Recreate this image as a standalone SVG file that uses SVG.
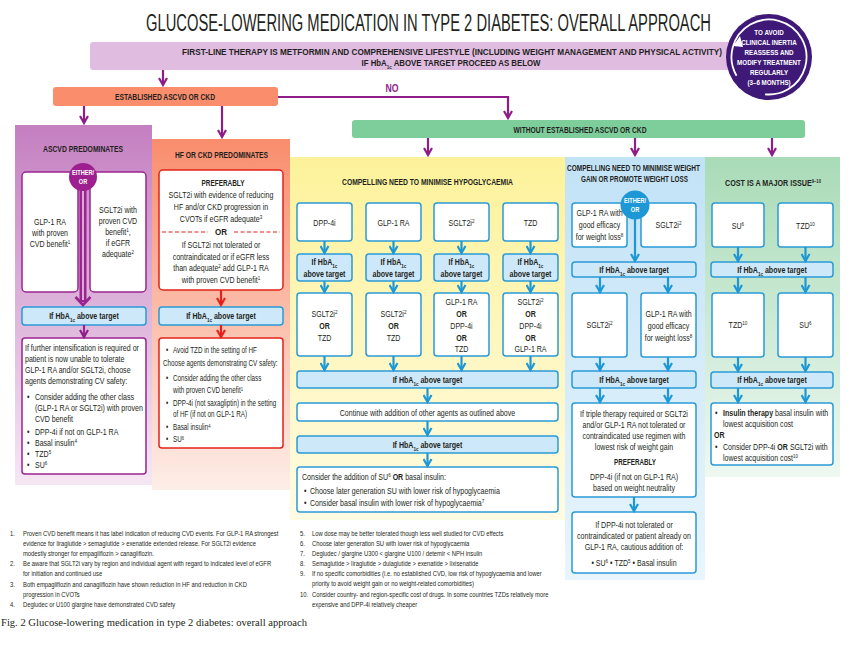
<svg xmlns="http://www.w3.org/2000/svg" width="850" height="646" viewBox="0 0 850 646">
<style>
.t{font-family:"Liberation Sans",Arial,sans-serif;fill:#231f20}
.b{font-size:8.5px}
.bb{font-size:8.5px;font-weight:bold}
.h{font-size:9.5px;font-weight:bold}
.c{text-anchor:middle}
.w{fill:#ffffff;font-weight:bold}
.sup{font-size:5.5px;baseline-shift:super}
.sub{font-size:5.5px;baseline-shift:sub}
.fn{font-size:7.6px}
.bx{fill:#ffffff;stroke:#2a9ad6;stroke-width:1.5}
.hb{fill:#cde8f8;stroke:#2a9ad6;stroke-width:1.5}
.pb{fill:#ffffff;stroke:#9b2590;stroke-width:1.5}
.rb{fill:#ffffff;stroke:#e2231a;stroke-width:1.5}
.cp{fill:none;stroke:#8d1d87;stroke-width:2.2}
.cr{fill:none;stroke:#e2231a;stroke-width:2.2}
.cb{fill:none;stroke:#1e98d5;stroke-width:2.2}
</style>
<defs>
<linearGradient id="gA" x1="0" y1="0" x2="0" y2="1"><stop offset="0" stop-color="#c47fc1"/><stop offset="1" stop-color="#f6e7f4"/></linearGradient>
<linearGradient id="gH" x1="0" y1="0" x2="0" y2="1"><stop offset="0" stop-color="#f98d6d"/><stop offset="1" stop-color="#fdeee8"/></linearGradient>
<linearGradient id="gY" x1="0" y1="0" x2="0" y2="1"><stop offset="0" stop-color="#fdf29a"/><stop offset="1" stop-color="#fffbe3"/></linearGradient>
<linearGradient id="gB" x1="0" y1="0" x2="0" y2="1"><stop offset="0" stop-color="#c2e2f6"/><stop offset="1" stop-color="#e8f5fc"/></linearGradient>
<linearGradient id="gG" x1="0" y1="0" x2="0" y2="1"><stop offset="0" stop-color="#a9dbb7"/><stop offset="1" stop-color="#eef8f1"/></linearGradient>
<marker id="ap" viewBox="0 0 10 10" refX="8.5" refY="5" markerWidth="10" markerHeight="10" markerUnits="userSpaceOnUse" orient="auto"><path d="M1.5,1 L8.5,5 L1.5,9" fill="none" stroke="#8d1d87" stroke-width="2.2"/></marker>
<marker id="ar" viewBox="0 0 10 10" refX="8.5" refY="5" markerWidth="10" markerHeight="10" markerUnits="userSpaceOnUse" orient="auto"><path d="M1.5,1 L8.5,5 L1.5,9" fill="none" stroke="#e2231a" stroke-width="2.2"/></marker>
<marker id="ab" viewBox="0 0 10 10" refX="8.5" refY="5" markerWidth="10" markerHeight="10" markerUnits="userSpaceOnUse" orient="auto"><path d="M1.5,1 L8.5,5 L1.5,9" fill="none" stroke="#1e98d5" stroke-width="2.2"/></marker>
</defs>
<rect width="850" height="646" fill="#ffffff"/>

<text class="t" x="428.5" y="31" text-anchor="middle" font-size="23" textLength="565" lengthAdjust="spacingAndGlyphs">GLUCOSE-LOWERING MEDICATION IN TYPE 2 DIABETES: OVERALL APPROACH</text>

<!-- panels -->
<g id="panel-ascvd"><rect x="15" y="125" width="137" height="360" fill="url(#gA)"/></g>
<g id="panel-hf"><rect x="152" y="139" width="138" height="351" fill="url(#gH)"/></g>
<g id="panel-hypo"><rect x="290" y="157" width="275" height="363" fill="url(#gY)"/></g>
<g id="panel-weight"><rect x="565" y="157" width="140" height="423" fill="url(#gB)"/></g>
<g id="panel-cost"><rect x="705" y="157" width="135" height="320" fill="url(#gG)"/></g>

<g id="first-line">
<rect x="90" y="42" width="650" height="28" rx="3" fill="#e0bce0"/>
<text class="t h c" x="452" y="55" textLength="540" lengthAdjust="spacingAndGlyphs">FIRST-LINE THERAPY IS METFORMIN AND COMPREHENSIVE LIFESTYLE (INCLUDING WEIGHT MANAGEMENT AND PHYSICAL ACTIVITY)</text>
<text class="t h c" x="451" y="66" textLength="179" lengthAdjust="spacingAndGlyphs">IF HbA<tspan class="sub">1c</tspan> ABOVE TARGET PROCEED AS BELOW</text>
</g>

<g id="reassess">
<circle cx="769" cy="57" r="43" fill="#3f1978"/>
<circle cx="769" cy="57" r="37.5" fill="none" stroke="#ffffff" stroke-width="1.8" stroke-dasharray="200 36" transform="rotate(150 769 57)"/>
<path d="M733,46 L740,36 L743,47 Z" fill="#ffffff"/>
<g transform="matrix(0.78,0,0,1,169.18,0)">
<text class="t w c" font-size="8" x="769" y="35">TO AVOID</text>
<text class="t w c" font-size="8" x="769" y="45">CLINICAL INERTIA</text>
<text class="t w c" font-size="8" x="769" y="55">REASSESS AND</text>
<text class="t w c" font-size="8" x="769" y="65">MODIFY TREATMENT</text>
<text class="t w c" font-size="8" x="769" y="75">REGULARLY</text>
<text class="t w c" font-size="8" x="769" y="85">(3–6 MONTHS)</text>
</g>
</g>

<g id="established">
<rect x="53" y="87" width="225" height="19" rx="3" fill="#fa8d6c"/>
<text class="t h c" x="165" y="100" textLength="100" lengthAdjust="spacingAndGlyphs">ESTABLISHED ASCVD OR CKD</text>
</g>
<text id="label-no" class="t c" x="392" y="92" font-size="10" font-weight="bold" style="fill:#8d1d87" textLength="13" lengthAdjust="spacingAndGlyphs">NO</text>

<g id="without">
<rect x="352" y="120" width="453" height="18" rx="3" fill="#7dce9b"/>
<text class="t h c" x="580" y="133" textLength="133" lengthAdjust="spacingAndGlyphs">WITHOUT ESTABLISHED ASCVD OR CKD</text>
</g>

<!-- ASCVD column -->
<g id="ascvd">
<text class="t h c" x="83" y="152" textLength="80" lengthAdjust="spacingAndGlyphs">ASCVD PREDOMINATES</text>
<rect class="pb" x="22" y="172" width="56" height="120" rx="4"/>
<rect class="pb" x="90" y="172" width="56" height="120" rx="4"/>
<g transform="matrix(0.83,0,0,1,8.5,0)">
<text class="t b c" x="50" y="225">GLP-1 RA</text>
<text class="t b c" x="50" y="236">with proven</text>
<text class="t b c" x="50" y="247">CVD benefit<tspan class="sup">1</tspan></text>
</g>
<g transform="matrix(0.83,0,0,1,20.06,0)">
<text class="t b c" x="118" y="213">SGLT2i with</text>
<text class="t b c" x="118" y="224">proven CVD</text>
<text class="t b c" x="118" y="235">benefit<tspan class="sup">1</tspan>,</text>
<text class="t b c" x="118" y="246">if eGFR</text>
<text class="t b c" x="118" y="257">adequate<tspan class="sup">2</tspan></text>
</g>
<rect class="hb" x="22" y="307" width="124" height="18" rx="3"/>
<g transform="matrix(0.83,0,0,1,14.28,0)"><text class="t bb c" x="84" y="319">If HbA<tspan class="sub">1c</tspan> above target</text></g>
<rect class="pb" x="22" y="338" width="124" height="136" rx="3"/>
<g transform="matrix(0.83,0,0,1,4.25,0)">
<text class="t b" x="25" y="351">If further intensification is required or</text>
<text class="t b" x="25" y="362">patient is now unable to tolerate</text>
<text class="t b" x="25" y="373">GLP-1 RA and/or SGLT2i, choose</text>
<text class="t b" x="25" y="384">agents demonstrating CV safety:</text>
<text class="t b" x="27.4" y="400">•</text><text class="t b" x="37" y="400">Consider adding the other class</text>
<text class="t b" x="37" y="411">(GLP-1 RA or SGLT2i) with proven</text>
<text class="t b" x="37" y="422">CVD benefit</text>
<text class="t b" x="27.4" y="435">•</text><text class="t b" x="37" y="435">DPP-4i if not on GLP-1 RA</text>
<text class="t b" x="27.4" y="446">•</text><text class="t b" x="37" y="446">Basal insulin<tspan class="sup">4</tspan></text>
<text class="t b" x="27.4" y="457">•</text><text class="t b" x="37" y="457">TZD<tspan class="sup">5</tspan></text>
<text class="t b" x="27.4" y="468">•</text><text class="t b" x="37" y="468">SU<tspan class="sup">6</tspan></text>
</g>
</g>

<!-- HF column -->
<g id="hf">
<text class="t h c" x="221.5" y="158" textLength="93" lengthAdjust="spacingAndGlyphs">HF OR CKD PREDOMINATES</text>
<rect class="rb" x="159" y="170" width="124" height="120" rx="4"/>
<path d="M162,232 H208 M234,232 H280" stroke="#e2231a" stroke-width="1.2" stroke-dasharray="4 2.5" fill="none"/>
<text class="t h c" x="223" y="186" textLength="43" lengthAdjust="spacingAndGlyphs">PREFERABLY</text>
<text class="t h c" x="221" y="235" textLength="12" lengthAdjust="spacingAndGlyphs">OR</text>
<g transform="matrix(0.83,0,0,1,37.57,0)">
<text class="t b c" x="221" y="198">SGLT2i with evidence of reducing</text>
<text class="t b c" x="221" y="210">HF and/or CKD progression in</text>
<text class="t b c" x="221" y="222">CVOTs if eGFR adequate<tspan class="sup">3</tspan></text>
<text class="t b c" x="221" y="248">If SGLT2i not tolerated or</text>
<text class="t b c" x="221" y="260">contraindicated or if eGFR less</text>
<text class="t b c" x="221" y="271">than adequate<tspan class="sup">2</tspan> add GLP-1 RA</text>
<text class="t b c" x="221" y="283">with proven CVD benefit<tspan class="sup">1</tspan></text>
</g>
<rect class="hb" x="159" y="307" width="124" height="18" rx="3"/>
<g transform="matrix(0.83,0,0,1,37.57,0)"><text class="t bb c" x="221" y="319">If HbA<tspan class="sub">1c</tspan> above target</text></g>
<rect class="rb" x="159" y="338" width="124" height="110" rx="3"/>
<g transform="matrix(0.74,0,0,1,42.38,0)">
<text class="t b" x="167" y="353">•</text><text class="t b" x="176.5" y="353">Avoid TZD in the setting of HF</text>
<text class="t b" x="163" y="366">Choose agents demonstrating CV safety:</text>
<text class="t b" x="167" y="381">•</text><text class="t b" x="176.5" y="381">Consider adding the other class</text>
<text class="t b" x="176.5" y="393">with proven CVD benefit<tspan class="sup">1</tspan></text>
<text class="t b" x="167" y="406">•</text><text class="t b" x="176.5" y="406">DPP-4i (not saxagliptin) in the setting</text>
<text class="t b" x="176.5" y="417">of HF (if not on GLP-1 RA)</text>
<text class="t b" x="167" y="430">•</text><text class="t b" x="176.5" y="430">Basal insulin<tspan class="sup">4</tspan></text>
<text class="t b" x="167" y="442">•</text><text class="t b" x="176.5" y="442">SU<tspan class="sup">6</tspan></text>
</g>
</g>

<!-- Hypoglycaemia column -->
<g id="hypo">
<text class="t h c" x="427.5" y="185" textLength="171" lengthAdjust="spacingAndGlyphs">COMPELLING NEED TO MINIMISE HYPOGLYCAEMIA</text>
<rect class="bx" x="297" y="203" width="55" height="38" rx="3"/>
<rect class="bx" x="366" y="203" width="55" height="38" rx="3"/>
<rect class="bx" x="434" y="203" width="55" height="38" rx="3"/>
<rect class="bx" x="503" y="203" width="55" height="38" rx="3"/>
<rect class="hb" x="297" y="254" width="55" height="27" rx="3"/>
<rect class="hb" x="366" y="254" width="55" height="27" rx="3"/>
<rect class="hb" x="434" y="254" width="55" height="27" rx="3"/>
<rect class="hb" x="503" y="254" width="55" height="27" rx="3"/>
<rect class="bx" x="297" y="293" width="55" height="63" rx="3"/>
<rect class="bx" x="366" y="293" width="55" height="63" rx="3"/>
<rect class="bx" x="434" y="293" width="55" height="63" rx="3"/>
<rect class="bx" x="503" y="293" width="55" height="63" rx="3"/>
<g transform="matrix(0.83,0,0,1,55.165,0)">
<text class="t b c" x="324.5" y="226">DPP-4i</text>
<text class="t bb c" x="324.5" y="265">If HbA<tspan class="sub">1c</tspan></text>
<text class="t bb c" x="324.5" y="277">above target</text>
<text class="t b c" x="324.5" y="317">SGLT2i<tspan class="sup">2</tspan></text>
<text class="t bb c" x="324.5" y="329">OR</text>
<text class="t b c" x="324.5" y="341">TZD</text>
</g>
<g transform="matrix(0.83,0,0,1,66.895,0)">
<text class="t b c" x="393.5" y="226">GLP-1 RA</text>
<text class="t bb c" x="393.5" y="265">If HbA<tspan class="sub">1c</tspan></text>
<text class="t bb c" x="393.5" y="277">above target</text>
<text class="t b c" x="393.5" y="317">SGLT2i<tspan class="sup">2</tspan></text>
<text class="t bb c" x="393.5" y="329">OR</text>
<text class="t b c" x="393.5" y="341">TZD</text>
</g>
<g transform="matrix(0.83,0,0,1,78.455,0)">
<text class="t b c" x="461.5" y="226">SGLT2i<tspan class="sup">2</tspan></text>
<text class="t bb c" x="461.5" y="265">If HbA<tspan class="sub">1c</tspan></text>
<text class="t bb c" x="461.5" y="277">above target</text>
<text class="t b c" x="461.5" y="305">GLP-1 RA</text>
<text class="t bb c" x="461.5" y="317">OR</text>
<text class="t b c" x="461.5" y="329">DPP-4i</text>
<text class="t bb c" x="461.5" y="341">OR</text>
<text class="t b c" x="461.5" y="352">TZD</text>
</g>
<g transform="matrix(0.83,0,0,1,90.185,0)">
<text class="t b c" x="530.5" y="226">TZD</text>
<text class="t bb c" x="530.5" y="265">If HbA<tspan class="sub">1c</tspan></text>
<text class="t bb c" x="530.5" y="277">above target</text>
<text class="t b c" x="530.5" y="305">SGLT2i<tspan class="sup">2</tspan></text>
<text class="t bb c" x="530.5" y="317">OR</text>
<text class="t b c" x="530.5" y="329">DPP-4i</text>
<text class="t bb c" x="530.5" y="341">OR</text>
<text class="t b c" x="530.5" y="352">GLP-1 RA</text>
</g>
<rect class="hb" x="297" y="371" width="261" height="17" rx="3"/>
<rect class="bx" x="297" y="403" width="261" height="18" rx="3"/>
<rect class="hb" x="297" y="436" width="261" height="17" rx="3"/>
<rect class="bx" x="297" y="467" width="261" height="45" rx="3"/>
<g transform="matrix(0.83,0,0,1,72.675,0)">
<text class="t bb c" x="427.5" y="383">If HbA<tspan class="sub">1c</tspan> above target</text>
<text class="t b c" x="427.5" y="416">Continue with addition of other agents as outlined above</text>
<text class="t bb c" x="427.5" y="448">If HbA<tspan class="sub">1c</tspan> above target</text>
</g>
<g transform="matrix(0.83,0,0,1,51.34,0)">
<text class="t b" x="302" y="480">Consider the addition of SU<tspan class="sup">6</tspan> <tspan font-weight="bold">OR</tspan> basal insulin:</text>
<text class="t b" x="304.4" y="494">•</text><text class="t b" x="311.6" y="494">Choose later generation SU with lower risk of hypoglycaemia</text>
<text class="t b" x="304.4" y="506">•</text><text class="t b" x="311.6" y="506">Consider basal insulin with lower risk of hypoglycaemia<tspan class="sup">7</tspan></text>
</g>
</g>

<!-- Weight column -->
<g id="weight">
<text class="t h c" x="633.5" y="171" textLength="133" lengthAdjust="spacingAndGlyphs">COMPELLING NEED TO MINIMISE WEIGHT</text>
<text class="t h c" x="634.5" y="182" textLength="107" lengthAdjust="spacingAndGlyphs">GAIN OR PROMOTE WEIGHT LOSS</text>
<rect class="bx" x="572" y="203" width="55" height="44" rx="3"/>
<rect class="bx" x="641" y="203" width="55" height="44" rx="3"/>
<rect class="hb" x="572" y="262" width="124" height="15" rx="3"/>
<rect class="bx" x="572" y="293" width="55" height="64" rx="3"/>
<rect class="bx" x="641" y="293" width="55" height="64" rx="3"/>
<rect class="hb" x="572" y="371" width="124" height="17" rx="3"/>
<rect class="bx" x="572" y="403" width="124" height="94" rx="3"/>
<rect class="bx" x="572" y="512" width="124" height="61" rx="3"/>
<g transform="matrix(0.83,0,0,1,101.915,0)">
<text class="t b c" x="599.5" y="216">GLP-1 RA with</text>
<text class="t b c" x="599.5" y="228">good efficacy</text>
<text class="t b c" x="599.5" y="240">for weight loss<tspan class="sup">8</tspan></text>
<text class="t b c" x="599.5" y="328">SGLT2i<tspan class="sup">2</tspan></text>
</g>
<g transform="matrix(0.83,0,0,1,113.645,0)">
<text class="t b c" x="668.5" y="228">SGLT2i<tspan class="sup">2</tspan></text>
<text class="t b c" x="668.5" y="317">GLP-1 RA with</text>
<text class="t b c" x="668.5" y="329">good efficacy</text>
<text class="t b c" x="668.5" y="341">for weight loss<tspan class="sup">8</tspan></text>
</g>
<g transform="matrix(0.83,0,0,1,107.78,0)">
<text class="t bb c" x="634" y="273">If HbA<tspan class="sub">1c</tspan> above target</text>
<text class="t bb c" x="634" y="383">If HbA<tspan class="sub">1c</tspan> above target</text>
<text class="t b c" x="634" y="417">If triple therapy required or SGLT2i</text>
<text class="t b c" x="634" y="428">and/or GLP-1 RA not tolerated or</text>
<text class="t b c" x="634" y="439">contraindicated use regimen with</text>
<text class="t b c" x="634" y="450">lowest risk of weight gain</text>
<text class="t b c" x="634" y="480">DPP-4i (if not on GLP-1 RA)</text>
<text class="t b c" x="634" y="491">based on weight neutrality</text>
<text class="t b c" x="634" y="528">If DPP-4i not tolerated or</text>
<text class="t b c" x="634" y="539">contraindicated or patient already on</text>
<text class="t b c" x="634" y="550">GLP-1 RA, cautious addition of:</text>
<text class="t b c" x="634" y="566">•  SU<tspan class="sup">6</tspan>  •  TZD<tspan class="sup">5</tspan>  •  Basal insulin</text>
</g>
<text class="t h c" x="635" y="465" textLength="42" lengthAdjust="spacingAndGlyphs">PREFERABLY</text>
<circle cx="635" cy="205" r="14.5" fill="#1e98d5"/>
<g transform="matrix(0.75,0,0,1,158.75,0)">
<text class="t w c" font-size="7.5" x="635" y="203">EITHER/</text>
<text class="t w c" font-size="7.5" x="635" y="212">OR</text>
</g>
</g>

<!-- Cost column -->
<g id="cost">
<text class="t h c" x="773" y="186" textLength="96" lengthAdjust="spacingAndGlyphs">COST IS A MAJOR ISSUE<tspan class="sup">9–10</tspan></text>
<rect class="bx" x="712" y="203" width="52" height="44" rx="3"/>
<rect class="bx" x="778" y="203" width="55" height="44" rx="3"/>
<rect class="hb" x="711" y="262" width="122" height="15" rx="3"/>
<rect class="bx" x="712" y="293" width="52" height="64" rx="3"/>
<rect class="bx" x="778" y="293" width="55" height="64" rx="3"/>
<rect class="hb" x="711" y="372" width="122" height="16" rx="3"/>
<rect class="bx" x="711" y="403" width="122" height="62" rx="3"/>
<g transform="matrix(0.83,0,0,1,125.46,0)">
<text class="t b c" x="738" y="229">SU<tspan class="sup">6</tspan></text>
<text class="t b c" x="738" y="328">TZD<tspan class="sup">10</tspan></text>
</g>
<g transform="matrix(0.83,0,0,1,136.935,0)">
<text class="t b c" x="805.5" y="229">TZD<tspan class="sup">10</tspan></text>
<text class="t b c" x="805.5" y="328">SU<tspan class="sup">6</tspan></text>
</g>
<g transform="matrix(0.83,0,0,1,131.24,0)">
<text class="t bb c" x="772" y="273">If HbA<tspan class="sub">1c</tspan> above target</text>
<text class="t bb c" x="772" y="383">If HbA<tspan class="sub">1c</tspan> above target</text>
</g>
<g transform="matrix(0.83,0,0,1,121.38,0)">
<text class="t b" x="715.2" y="416">•</text><text class="t b" x="724.8" y="416"><tspan font-weight="bold">Insulin therapy</tspan> basal insulin with</text>
<text class="t b" x="724.8" y="427">lowest acquisition cost</text>
<text class="t bb" x="714" y="438">OR</text>
<text class="t b" x="715.2" y="450">•</text><text class="t b" x="724.8" y="450">Consider DPP-4i <tspan font-weight="bold">OR</tspan> SGLT2i with</text>
<text class="t b" x="724.8" y="461">lowest acquisition cost<tspan class="sup">10</tspan></text>
</g>
</g>

<!-- connectors -->
<g id="connectors">
<path class="cp" d="M163,70 V85" marker-end="url(#ap)"/>
<path class="cp" d="M278,97 H508 V118" marker-end="url(#ap)"/>
<path class="cp" d="M84,106 V123" marker-end="url(#ap)"/>
<path class="cp" d="M222,106 V137" marker-end="url(#ap)"/>
<path class="cp" d="M428,138 V155" marker-end="url(#ap)"/>
<path class="cp" d="M635,138 V155" marker-end="url(#ap)"/>
<path class="cp" d="M772,138 V155" marker-end="url(#ap)"/>
<path d="M83,188 V302" stroke="#9b2590" stroke-width="7" fill="none"/>
<path d="M83,190 V300" stroke="#dcaad6" stroke-width="2" fill="none"/>
<path d="M75.5,297 L83,305 L90.5,297" stroke="#9b2590" stroke-width="2.6" fill="none"/>
<path class="cp" d="M84,325 V337" marker-end="url(#ap)" style="stroke:#9b2590"/>
<path class="cr" d="M221,290 V305" marker-end="url(#ar)"/>
<path class="cr" d="M221,325 V337" marker-end="url(#ar)"/>
<path class="cb" d="M324.5,241 V253" marker-end="url(#ab)"/>
<path class="cb" d="M393.5,241 V253" marker-end="url(#ab)"/>
<path class="cb" d="M461.5,241 V253" marker-end="url(#ab)"/>
<path class="cb" d="M530.5,241 V253" marker-end="url(#ab)"/>
<path class="cb" d="M324.5,281 V292" marker-end="url(#ab)"/>
<path class="cb" d="M393.5,281 V292" marker-end="url(#ab)"/>
<path class="cb" d="M461.5,281 V292" marker-end="url(#ab)"/>
<path class="cb" d="M530.5,281 V292" marker-end="url(#ab)"/>
<path class="cb" d="M324.5,356 V370" marker-end="url(#ab)"/>
<path class="cb" d="M393.5,356 V370" marker-end="url(#ab)"/>
<path class="cb" d="M461.5,356 V370" marker-end="url(#ab)"/>
<path class="cb" d="M530.5,356 V370" marker-end="url(#ab)"/>
<path class="cb" d="M427.5,388 V402" marker-end="url(#ab)"/>
<path class="cb" d="M427.5,421 V435" marker-end="url(#ab)"/>
<path class="cb" d="M427.5,453 V466" marker-end="url(#ab)"/>
<path class="cb" d="M635,219 V261" marker-end="url(#ab)"/>
<path class="cb" d="M600,277 V292" marker-end="url(#ab)"/>
<path class="cb" d="M668,277 V292" marker-end="url(#ab)"/>
<path class="cb" d="M600,357 V370" marker-end="url(#ab)"/>
<path class="cb" d="M668,357 V370" marker-end="url(#ab)"/>
<path class="cb" d="M600,388 V402" marker-end="url(#ab)"/>
<path class="cb" d="M668,388 V402" marker-end="url(#ab)"/>
<path class="cb" d="M634,497 V511" marker-end="url(#ab)"/>
<path class="cb" d="M738,247 V261" marker-end="url(#ab)"/>
<path class="cb" d="M805.5,247 V261" marker-end="url(#ab)"/>
<path class="cb" d="M738,277 V292" marker-end="url(#ab)"/>
<path class="cb" d="M805.5,277 V292" marker-end="url(#ab)"/>
<path class="cb" d="M738,357 V371" marker-end="url(#ab)"/>
<path class="cb" d="M805.5,357 V371" marker-end="url(#ab)"/>
<path class="cb" d="M738,388 V402" marker-end="url(#ab)"/>
<path class="cb" d="M805.5,388 V402" marker-end="url(#ab)"/>
</g>

<g id="ascvd-either">
<circle cx="83" cy="177" r="14" fill="#9e1f8f"/>
<g transform="matrix(0.75,0,0,1,20.75,0)">
<text class="t w c" font-size="7.5" x="83" y="175">EITHER/</text>
<text class="t w c" font-size="7.5" x="83" y="184">OR</text>
</g>
</g>

<!-- footnotes -->
<g id="footnotes" transform="scale(0.77,1)">
<text class="t fn" x="12.99" y="536">1.</text><text class="t fn" x="29.87" y="536">Proven CVD benefit means it has label indication of reducing CVD events. For GLP-1 RA strongest</text>
<text class="t fn" x="29.87" y="546">evidence for liraglutide &gt; semaglutide &gt; exenatide extended release. For SGLT2i evidence</text>
<text class="t fn" x="29.87" y="556">modestly stronger for empagliflozin &gt; canagliflozin.</text>
<text class="t fn" x="12.99" y="566">2.</text><text class="t fn" x="29.87" y="566">Be aware that SGLT2i vary by region and individual agent with regard to indicated level of eGFR</text>
<text class="t fn" x="29.87" y="576">for initiation and continued use</text>
<text class="t fn" x="12.99" y="587">3.</text><text class="t fn" x="29.87" y="587">Both empagliflozin and canagliflozin have shown reduction in HF and reduction in CKD</text>
<text class="t fn" x="29.87" y="597">progression in CVOTs</text>
<text class="t fn" x="12.99" y="607">4.</text><text class="t fn" x="29.87" y="607">Degludec or U100 glargine have demonstrated CVD safety</text>
<text class="t fn" x="389.6" y="536">5.</text><text class="t fn" x="405.2" y="536">Low dose may be better tolerated though less well studied for CVD effects</text>
<text class="t fn" x="389.6" y="546">6.</text><text class="t fn" x="405.2" y="546">Choose later generation SU with lower risk of hypoglycaemia</text>
<text class="t fn" x="389.6" y="556">7.</text><text class="t fn" x="405.2" y="556">Degludec / glargine U300 &lt; glargine U100 / detemir &lt; NPH insulin</text>
<text class="t fn" x="389.6" y="566">8.</text><text class="t fn" x="405.2" y="566">Semaglutide &gt; liraglutide &gt; dulaglutide &gt; exenatide &gt; lixisenatide</text>
<text class="t fn" x="389.6" y="576">9.</text><text class="t fn" x="405.2" y="576">If no specific comorbidities (i.e. no established CVD, low risk of hypoglycaemia and lower</text>
<text class="t fn" x="405.2" y="586">priority to avoid weight gain or no weight-related comorbidities)</text>
<text class="t fn" x="389.6" y="597">10.</text><text class="t fn" x="405.2" y="597">Consider country- and region-specific cost of drugs. In some countries TZDs relatively more</text>
<text class="t fn" x="405.2" y="607">expensive and DPP-4i relatively cheaper</text>
</g>
<text id="caption" x="1" y="626" font-family="'Liberation Serif','Times New Roman',serif" font-size="11" fill="#231f20" textLength="306" lengthAdjust="spacingAndGlyphs">Fig. 2  Glucose-lowering medication in type 2 diabetes: overall approach</text>
</svg>
